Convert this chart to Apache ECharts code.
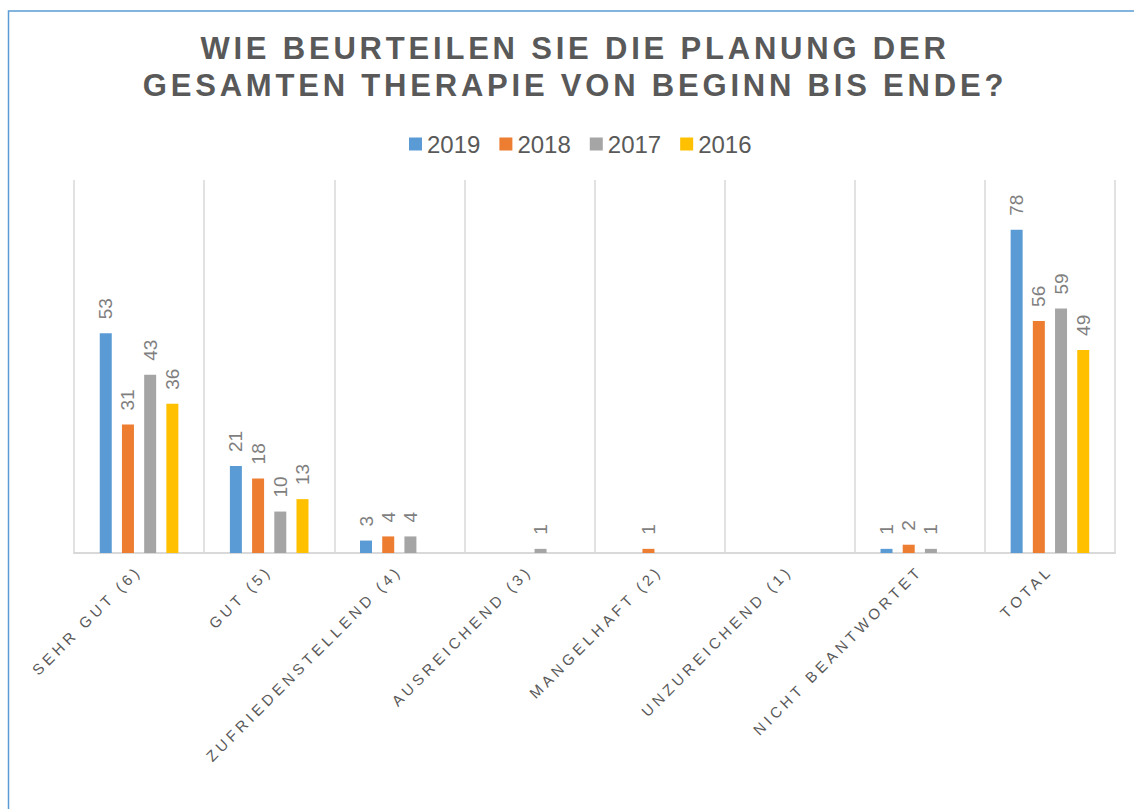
<!DOCTYPE html>
<html lang="de">
<head>
<meta charset="utf-8" />
<title>Planung der gesamten Therapie</title>
<script src="https://cdn.jsdelivr.net/npm/echarts@6/dist/echarts.min.js"></script>
<style>
    html, body { margin: 0; padding: 0; background: #fff; }
    #main { width: 1134px; height: 809px; }
</style>
</head>
<body>
<div id="main"></div>
<script>
    var titleLines = ['WIE BEURTEILEN SIE DIE PLANUNG DER', 'GESAMTEN THERAPIE VON BEGINN BIS ENDE?'];
    var categories = ['SEHR GUT (6)', 'GUT (5)', 'ZUFRIEDENSTELLEND (4)', 'AUSREICHEND (3)',
        'MANGELHAFT (2)', 'UNZUREICHEND (1)', 'NICHT BEANTWORTET', 'TOTAL'];
    var years = ['2019', '2018', '2017', '2016'];
    var colors = ['#5B9BD5', '#ED7D31', '#A5A5A5', '#FFC000'];
    // leere Zellen = null (kein Balken, keine Beschriftung)
    var v2019 = [53, 21, 3, null, null, null, 1, 78];
    var v2018 = [31, 18, 4, null, 1, null, 2, 56];
    var v2017 = [43, 10, 4, 1, null, null, 1, 59];
    var v2016 = [36, 13, null, null, null, null, null, 49];
    var values = [v2019, v2018, v2017, v2016];

    var font = 'Liberation Sans, Arial, sans-serif';
    var dom = document.getElementById('main');
    var myChart = echarts.init(dom, null, { renderer: 'svg' });

    var series = [];
    for (var i = 0; i < years.length; i++) {
        series.push({
            name: years[i],
            type: 'bar',
            data: values[i],
            barWidth: 12,
            barGap: '85%',
            itemStyle: { color: colors[i] },
            label: {
                show: true,
                position: 'top',
                rotate: 90,
                align: 'left',
                verticalAlign: 'middle',
                distance: 14,
                fontFamily: font,
                fontSize: 19,
                color: '#7F7F7F'
            }
        });
    }

    var option = {
        animation: false,
        backgroundColor: '#fff',
        title: {
            text: titleLines.join('\n'),
            left: 575,
            top: 30,
            padding: 0,
            textAlign: 'center',
            textStyle: {
                fontFamily: font,
                fontSize: 31,
                fontWeight: 'bold',
                color: '#595959',
                lineHeight: 37
            }
        },
        legend: {
            data: years,
            left: 409,
            top: 132,
            padding: 0,
            itemWidth: 13,
            itemHeight: 13,
            itemGap: 19,
            icon: 'rect',
            textStyle: { fontFamily: font, fontSize: 24, color: '#595959' }
        },
        grid: { left: 74, right: 19, top: 180, bottom: 256 },
        xAxis: {
            type: 'category',
            data: categories,
            axisLine: { lineStyle: { color: '#D9D9D9', width: 2 } },
            axisTick: { show: false },
            splitLine: { show: true, lineStyle: { color: '#D9D9D9', width: 1.5 } },
            axisLabel: {
                interval: 0,
                rotate: 45,
                margin: 15,
                fontFamily: font,
                fontSize: 15,
                color: '#595959'
            }
        },
        yAxis: {
            type: 'value',
            min: 0,
            max: 90,
            show: false
        },
        graphic: [{
            type: 'rect',
            shape: { x: 8.5, y: 11, width: 1300, height: 1000 },
            style: { fill: 'none', stroke: '#5B9BD5', lineWidth: 1.5 },
            silent: true
        }],
        series: series
    };

    myChart.setOption(option, true);

    // Sperrsatz wie im Original (Titel und Kategorien)
    function spaceOut() {
        var texts = dom.querySelectorAll('text');
        for (var k = 0; k < texts.length; k++) {
            var s = texts[k].textContent;
            if (titleLines.indexOf(s) >= 0) {
                texts[k].style.letterSpacing = '3.8px';
            } else if (categories.indexOf(s) >= 0) {
                texts[k].style.letterSpacing = '4px';
            }
        }
    }
    spaceOut();
    myChart.on('finished', spaceOut);
</script>
</body>
</html>
